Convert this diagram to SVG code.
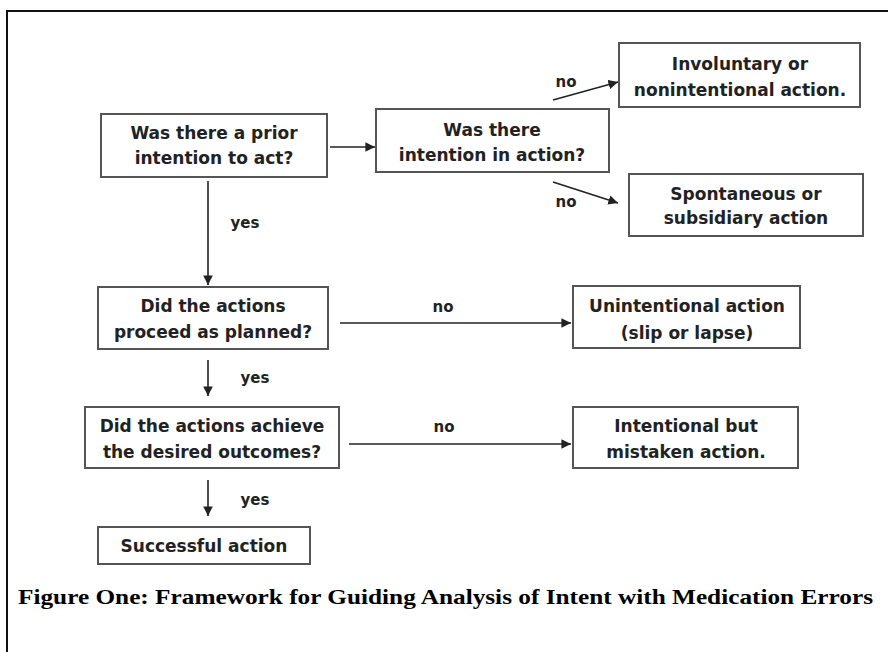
<svg xmlns="http://www.w3.org/2000/svg" width="888" height="652" viewBox="0 0 888 652">
<style>
.box{fill:#fff;stroke:#555;stroke-width:2}
.t{font-family:"DejaVu Sans",sans-serif;font-size:17px;font-weight:bold;fill:#222;text-anchor:middle}
.lbl{font-family:"DejaVu Sans",sans-serif;font-size:15px;font-weight:bold;fill:#222;text-anchor:middle}
.c{stroke:#222;stroke-width:1.6;fill:none;marker-end:url(#ah)}
.cap{font-family:"Liberation Serif",serif;font-size:21px;font-weight:bold;fill:#000}
</style>
<defs>
<marker id="ah" viewBox="0 0 10 10" refX="10" refY="5" markerWidth="6" markerHeight="6" orient="auto" markerUnits="strokeWidth">
<path d="M0,0 L10,5 L0,10 z" fill="#222"/>
</marker>
</defs>
<rect width="888" height="652" fill="#fff"/>
<path d="M7,652 V11 H888" fill="none" stroke="#111" stroke-width="2"/>

<g id="connectors">
<line class="c" x1="330" y1="147" x2="375" y2="147"/>
<line class="c" x1="553" y1="100" x2="618" y2="82"/>
<line class="c" x1="553" y1="182" x2="618" y2="203"/>
<line class="c" x1="208" y1="181" x2="208" y2="285"/>
<line class="c" x1="340" y1="323" x2="571" y2="323"/>
<line class="c" x1="208" y1="360" x2="208" y2="396"/>
<line class="c" x1="349" y1="444" x2="571" y2="444"/>
<line class="c" x1="208" y1="480" x2="208" y2="516"/>
<text class="lbl" x="566" y="87">no</text>
<text class="lbl" x="566" y="207">no</text>
<text class="lbl" x="245" y="228">yes</text>
<text class="lbl" x="443" y="312">no</text>
<text class="lbl" x="255" y="383">yes</text>
<text class="lbl" x="444" y="432">no</text>
<text class="lbl" x="255" y="505">yes</text>
</g>

<g id="n1">
<rect class="box" x="101" y="114" width="226" height="63"/>
<text class="t" x="214" y="139">Was there a prior</text>
<text class="t" x="214" y="164">intention to act?</text>
</g>
<g id="n2">
<rect class="box" x="376" y="109" width="233" height="63"/>
<text class="t" x="492" y="136">Was there</text>
<text class="t" x="492" y="161">intention in action?</text>
</g>
<g id="n3">
<rect class="box" x="619" y="43" width="241" height="64"/>
<text class="t" x="740" y="70">Involuntary or</text>
<text class="t" x="740" y="96">nonintentional action.</text>
</g>
<g id="n4">
<rect class="box" x="629" y="174" width="234" height="62"/>
<text class="t" x="746" y="200">Spontaneous or</text>
<text class="t" x="746" y="224">subsidiary action</text>
</g>
<g id="n5">
<rect class="box" x="98" y="287" width="230" height="62"/>
<text class="t" x="213" y="312">Did the actions</text>
<text class="t" x="213" y="338">proceed as planned?</text>
</g>
<g id="n6">
<rect class="box" x="573" y="286" width="227" height="62"/>
<text class="t" x="687" y="312">Unintentional action</text>
<text class="t" x="687" y="339">(slip or lapse)</text>
</g>
<g id="n7">
<rect class="box" x="85" y="407" width="254" height="61"/>
<text class="t" x="212" y="432">Did the actions achieve</text>
<text class="t" x="212" y="458">the desired outcomes?</text>
</g>
<g id="n8">
<rect class="box" x="573" y="407" width="225" height="61"/>
<text class="t" x="686" y="432">Intentional but</text>
<text class="t" x="686" y="458">mistaken action.</text>
</g>
<g id="n9">
<rect class="box" x="98" y="527" width="212" height="37"/>
<text class="t" x="204" y="552">Successful action</text>
</g>

<text class="cap" x="18" y="604" textLength="855" lengthAdjust="spacingAndGlyphs">Figure One: Framework for Guiding Analysis of Intent with Medication Errors</text>
</svg>
